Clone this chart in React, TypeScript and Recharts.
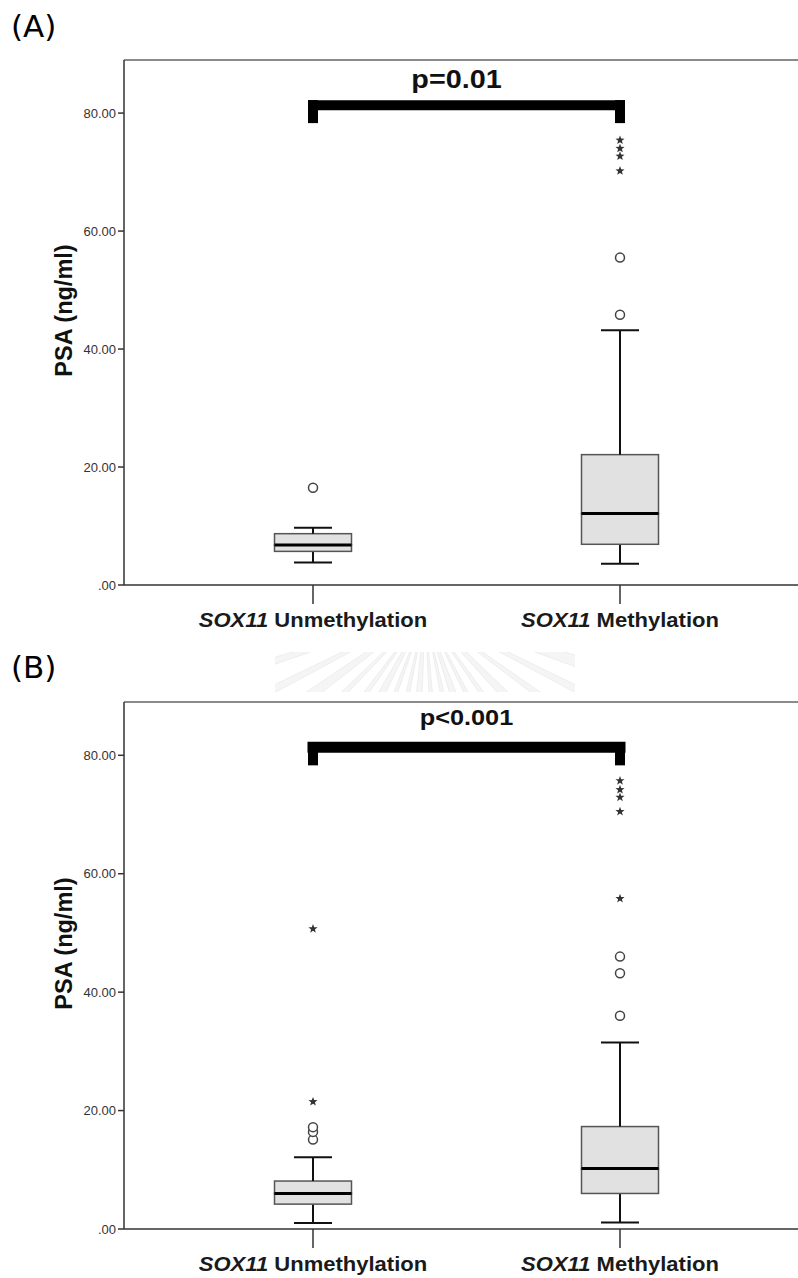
import { Bar, ComposedChart, ReferenceLine, Scatter, XAxis, YAxis } from "recharts";

const FONT = "'Liberation Sans', Arial, sans-serif";

const categories = ["SOX11 Unmethylation", "SOX11 Methylation"];
const yTicks = [0, 20, 40, 60, 80];

// panel A: box statistics per category
const aMin = [3.8, 3.6];
const aQ1 = [5.7, 6.9];
const aMedian = [6.8, 12.1];
const aQ3 = [8.7, 22.1];
const aMax = [9.7, 43.2];
const aCircles = [[16.5], [45.8, 55.5]];
const aStars = [[], [70.2, 72.7, 74.0, 75.4]];

// panel B
const bMin = [1.0, 1.1];
const bQ1 = [4.2, 6.0];
const bMedian = [6.0, 10.2];
const bQ3 = [8.1, 17.3];
const bMax = [12.1, 31.5];
const bCircles = [[15.1, 16.4, 17.2], [36.0, 43.2, 46.0]];
const bStars = [[21.5, 50.7], [55.8, 70.5, 72.9, 74.2, 75.7]];

// significance bracket (bar bottom, bar top, leg end)
const bracketLow = 80.5;
const bracketHigh = 82.2;
const bracketLeg = 78.3;

const buildBoxes = (min: number[], q1: number[], med: number[], q3: number[], max: number[]) =>
    categories.map((cat, i) => ({
        cat,
        base: min[i],
        lowWhisker: q1[i] - min[i],
        lowBox: med[i] - q1[i],
        highBox: q3[i] - med[i],
        highWhisker: max[i] - q3[i],
    }));

const buildPoints = (groups: number[][]) =>
    groups.flatMap((vals, i) => vals.map((v) => ({ cat: categories[i], v })));

const LowWhisker = (p: any) => {
    const cx = p.x + p.width / 2;
    const yb = p.y + p.height;
    return (
        <g>
            <line x1={cx} x2={cx} y1={p.y} y2={yb} stroke="#111" strokeWidth={2} />
            <line x1={cx - 19} x2={cx + 19} y1={yb} y2={yb} stroke="#111" strokeWidth={2} />
        </g>
    );
};

const HighWhisker = (p: any) => {
    const cx = p.x + p.width / 2;
    return (
        <g>
            <line x1={cx} x2={cx} y1={p.y} y2={p.y + p.height} stroke="#111" strokeWidth={2} />
            <line x1={cx - 19} x2={cx + 19} y1={p.y} y2={p.y} stroke="#111" strokeWidth={2} />
        </g>
    );
};

const LowBox = (p: any) => (
    <rect x={p.x} y={p.y} width={p.width} height={p.height} fill="#e1e1e1" stroke="#555" strokeWidth={1.5} />
);

const HighBox = (p: any) => (
    <g>
        <rect x={p.x} y={p.y} width={p.width} height={p.height} fill="#e1e1e1" stroke="#555" strokeWidth={1.5} />
        <line x1={p.x} x2={p.x + p.width} y1={p.y + p.height} y2={p.y + p.height} stroke="#000" strokeWidth={3} />
    </g>
);

const Circle = (p: any) => <circle cx={p.cx} cy={p.cy} r={4.5} fill="#fff" stroke="#444" strokeWidth={1.5} />;

const Star = (p: any) => {
    const pts = [];
    for (let k = 0; k < 10; k++) {
        const r = k % 2 === 0 ? 4.8 : 2;
        const a = -Math.PI / 2 + (k * Math.PI) / 5;
        pts.push(`${p.cx + r * Math.cos(a)},${p.cy + r * Math.sin(a)}`);
    }
    return <polygon points={pts.join(" ")} fill="#333" />;
};

const CatTick = (p: any) => {
    const [gene, ...rest] = String(p.payload.value).split(" ");
    return (
        <text
            transform={`translate(${p.x},${p.y + 21}) scale(1.13,1)`}
            textAnchor="middle"
            fontFamily={FONT}
            fontWeight="bold"
            fontSize={19.5}
            fill="#1a1a1a"
        >
            <tspan fontStyle="italic">{gene}</tspan>
            {" " + rest.join(" ")}
        </text>
    );
};

const YTitle = (p: any) => {
    const vb = p.viewBox;
    const x = vb.x + 8;
    const y = vb.y + vb.height / 2 + p.dy;
    return (
        <text
            transform={`translate(${x},${y}) rotate(-90)`}
            textAnchor="middle"
            fontFamily={FONT}
            fontWeight="bold"
            fontSize={23.5}
            fill="#111"
        >
            PSA (ng/ml)
        </text>
    );
};

const PLabel = (p: any) => {
    const vb = p.viewBox;
    const cx = vb.x + vb.width / 2 + p.dx;
    return (
        <text
            transform={`translate(${cx},${vb.y - p.lift}) scale(1.15,1)`}
            textAnchor="middle"
            fontFamily={FONT}
            fontWeight="bold"
            fontSize={p.size}
            fill="#111"
        >
            {p.text}
        </text>
    );
};

type PanelProps = {
    top: number;
    plotH: number;
    boxes: ReturnType<typeof buildBoxes>;
    circles: { cat: string; v: number }[];
    stars: { cat: string; v: number }[];
    pText: string;
    pSize: number;
    pDx: number;
    pLift: number;
    titleDy: number;
    barW: number;
};

const Panel = ({ top, plotH, boxes, circles, stars, pText, pSize, pDx, pLift, titleDy, barW }: PanelProps) => (
    <div style={{ position: "absolute", left: 0, top }}>
        <ComposedChart
            width={830}
            height={60 + plotH + 55}
            data={boxes}
            margin={{ top: 60, right: 10, bottom: 0, left: 64 }}
            barSize={77}
        >
            <XAxis
                dataKey="cat"
                type="category"
                allowDuplicatedCategory={false}
                padding={{ left: 35.5, right: 46.5 }}
                axisLine={{ stroke: "#333", strokeWidth: 1.5 }}
                tickLine={{ stroke: "#333", strokeWidth: 1.5 }}
                tickSize={19}
                height={55}
                interval={0}
                tick={<CatTick />}
            />
            <YAxis
                type="number"
                domain={[0, 89]}
                ticks={yTicks}
                width={60}
                tickSize={6}
                tickFormatter={(v: number) => (v === 0 ? ".00" : v.toFixed(2))}
                tick={{ fontSize: 13, fill: "#333", fontFamily: FONT }}
                axisLine={{ stroke: "#333", strokeWidth: 1.5 }}
                tickLine={{ stroke: "#333", strokeWidth: 1.5 }}
                label={<YTitle dy={titleDy} />}
            />
            <ReferenceLine y={89} stroke="#8a8a8a" strokeWidth={2} />
            <Bar dataKey="base" stackId="box" fill="none" isAnimationActive={false} />
            <Bar dataKey="lowWhisker" stackId="box" shape={<LowWhisker />} isAnimationActive={false} />
            <Bar dataKey="lowBox" stackId="box" shape={<LowBox />} isAnimationActive={false} />
            <Bar dataKey="highBox" stackId="box" shape={<HighBox />} isAnimationActive={false} />
            <Bar dataKey="highWhisker" stackId="box" shape={<HighWhisker />} isAnimationActive={false} />
            <ReferenceLine
                segment={[
                    { x: categories[0], y: (bracketLow + bracketHigh) / 2 },
                    { x: categories[1], y: (bracketLow + bracketHigh) / 2 },
                ]}
                stroke="#000"
                strokeWidth={barW}
                strokeLinecap="square"
                label={<PLabel text={pText} size={pSize} dx={pDx} lift={pLift} />}
            />
            {categories.map((c) => (
                <ReferenceLine
                    key={c}
                    segment={[
                        { x: c, y: bracketLeg },
                        { x: c, y: bracketHigh },
                    ]}
                    stroke="#000"
                    strokeWidth={10}
                />
            ))}
            <Scatter data={circles} dataKey="v" shape={Circle} isAnimationActive={false} />
            <Scatter data={stars} dataKey="v" shape={Star} isAnimationActive={false} />
        </ComposedChart>
    </div>
);

const rayAngles = [18, 27, 36, 46, 55, 63, 71, 78, 86, 94, 102, 110, 118, 126, 135, 144, 153, 162];

const Watermark = () => (
    <svg width={798} height={1278} style={{ position: "absolute", left: 0, top: 0 }}>
        <defs>
            <clipPath id="wm">
                <rect x={275} y={652} width={300} height={40} />
            </clipPath>
        </defs>
        <g clipPath="url(#wm)">
            {rayAngles.map((deg, i) => {
                const a = (deg * Math.PI) / 180;
                const w = (i % 3 === 0 ? 2.0 : 1.2) * (Math.PI / 180);
                const cx = 425;
                const cy = 612;
                const r1 = 30;
                const r2 = 190;
                const p = [
                    [cx + r1 * Math.cos(a - w), cy + r1 * Math.sin(a - w)],
                    [cx + r2 * Math.cos(a - w), cy + r2 * Math.sin(a - w)],
                    [cx + r2 * Math.cos(a + w), cy + r2 * Math.sin(a + w)],
                    [cx + r1 * Math.cos(a + w), cy + r1 * Math.sin(a + w)],
                ];
                return (
                    <polygon
                        key={deg}
                        points={p.map((q) => q.join(",")).join(" ")}
                        fill="#f5f5f5"
                        stroke="#ededed"
                        strokeWidth={1}
                    />
                );
            })}
        </g>
    </svg>
);

const App = () => (
    <div
        style={{
            position: "absolute",
            left: 0,
            top: 0,
            width: 798,
            height: 1278,
            overflow: "hidden",
            background: "#fff",
        }}
    >
        <Watermark />
        <div style={{ position: "absolute", left: 11, top: 11, fontFamily: "'DejaVu Sans', sans-serif", fontSize: 31, lineHeight: 1 }}>
            (A)
        </div>
        <div style={{ position: "absolute", left: 11, top: 652, fontFamily: "'DejaVu Sans', sans-serif", fontSize: 31, lineHeight: 1 }}>
            (B)
        </div>
        <Panel
            top={0}
            plotH={525}
            boxes={buildBoxes(aMin, aQ1, aMedian, aQ3, aMax)}
            circles={buildPoints(aCircles)}
            stars={buildPoints(aStars)}
            pText="p=0.01"
            pSize={25}
            pDx={-10}
            pLift={17}
            titleDy={-12}
            barW={10}
        />
        <Panel
            top={642}
            plotH={527}
            boxes={buildBoxes(bMin, bQ1, bMedian, bQ3, bMax)}
            circles={buildPoints(bCircles)}
            stars={buildPoints(bStars)}
            pText="p<0.001"
            pSize={22}
            pDx={0}
            pLift={22}
            titleDy={-22}
            barW={11}
        />
    </div>
);

export default App;
